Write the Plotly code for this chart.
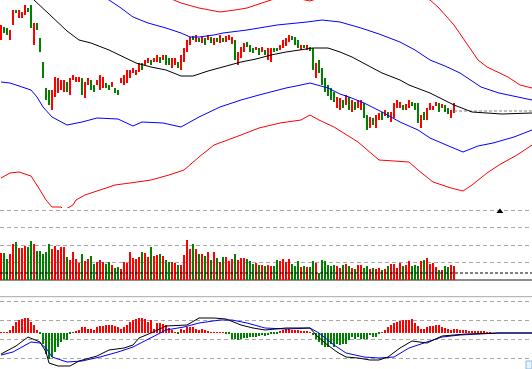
import plotly.graph_objects as go

# ---------------- data ----------------
OPEN = [210,223,222,210,225,240,232,232,235,242,
        245,205,227,212,188,162,160,140,153,157,
        160,158,168,155,170,168,168,172,152,165,
        170,165,165,160,162,167,165,163,162,160,
        167,165,167,172,177,175,178,187,185,187,
        190,188,188,193,190,195,192,182,185,188,
        180,188,198,205,214,208,212,207,212,210,
        213,205,212,207,212,208,210,206,210,185,
        192,198,208,205,202,200,202,198,200,190,
        188,202,202,200,202,204,208,214,213,210,
        200,205,200,203,202,172,190,182,172,165,
        162,158,142,140,150,145,153,138,148,142,
        140,147,135,122,132,122,130,138,134,138,
        128,132,142,142,145,140,142,148,147,147,
        122,138,130,140,140,144,147,142,145,142,
        132,137]
CLOSE = [225,217,215,220,240,237,240,238,245,238,
         222,227,220,198,172,150,145,160,173,172,
         170,170,158,172,175,173,173,155,168,172,
         160,158,170,175,173,162,160,168,157,155,
         172,175,180,180,182,180,187,180,190,192,
         185,192,195,187,195,185,185,192,192,182,
         195,202,210,213,210,215,208,213,205,215,
         207,212,208,215,208,214,215,213,190,198,
         203,207,203,198,197,203,195,203,195,202,
         202,198,199,205,210,212,215,210,205,202,
         205,202,205,199,180,187,177,165,158,154,
         150,148,153,152,142,155,140,150,140,150,
         150,132,120,133,125,135,137,130,140,132,
         138,147,150,148,140,146,150,144,140,127,
         135,130,142,147,144,148,138,146,138,136,
         140,147]
VOLUME = [27,27,21,26,36,38,32,32,34,33,
          39,36,29,29,26,28,36,31,34,30,
          33,33,23,20,28,21,17,26,19,21,
          24,16,18,20,18,16,18,15,12,13,
          11,18,17,28,22,21,23,28,27,23,
          33,24,25,26,24,20,18,18,17,15,
          15,25,40,31,36,31,26,26,24,28,
          20,28,22,18,23,23,19,21,26,20,
          22,22,21,19,16,17,15,15,14,15,
          14,14,20,19,21,18,21,16,14,19,
          13,14,13,13,19,17,7,20,19,15,
          14,15,14,12,15,16,14,12,11,15,
          15,12,14,11,12,11,12,10,11,14,
          16,16,12,17,14,15,19,14,15,14,
          19,20,22,16,17,13,10,10,14,13,
          15,14]
MACD_HIST = [0.008,0.008,0.005,0.025,0.068,0.108,0.125,0.135,0.152,0.152,
             0.108,0.075,0.025,-0.008,-0.108,-0.208,-0.258,-0.242,-0.192,-0.142,
             -0.092,-0.058,-0.075,-0.008,0.003,0.015,0.025,0.058,0.058,0.042,
             0.042,0.025,0.058,0.068,0.068,0.082,0.082,0.082,0.068,0.058,
             0.042,0.058,0.075,0.108,0.125,0.135,0.152,0.152,0.142,0.108,
             0.125,0.042,0.102,0.102,0.092,0.075,0.052,0.032,0.008,-0.005,
             0.042,0.032,0.058,0.058,0.058,0.042,0.032,0.042,0.025,0.015,
             0.008,0.005,0.003,0.002,0.001,-0.003,-0.008,-0.058,-0.065,-0.075,
             -0.058,-0.052,-0.052,-0.042,-0.042,-0.042,-0.032,-0.025,-0.030,-0.025,
             -0.015,-0.010,-0.005,0.015,0.025,0.035,0.035,0.030,0.025,0.025,
             0.020,0.015,0.015,0.005,-0.020,-0.058,-0.092,-0.125,-0.142,-0.142,
             -0.108,-0.142,-0.108,-0.125,-0.108,-0.108,-0.075,-0.042,-0.058,-0.042,
             -0.058,-0.058,-0.058,-0.025,-0.042,-0.042,-0.008,0.003,0.025,0.058,
             0.075,0.102,0.108,0.115,0.125,0.125,0.132,0.142,0.102,0.068,
             0.035,0.042,0.058,0.068,0.068,0.075,0.075,0.058,0.052,0.042,
             0.032,0.035,0.035,0.032,0.030,0.025,0.015,0.018,0.018,0.015,
             0.015,0.010,0.008,0.008]

# band lines (bar index, value)
MID_IDX = [9,11,16,22,26,30,36,41,45,50,55,60,64,69,74,80,85,90,95,101,104,109,113,117,120,127,133,136,143,148,151,157,167,177]
MID = [255,250,236,219,210,207,200,193,187,183,180,174,174,179,183,188,191,195,198,201,202,202,198,193,188,177,170,165,157,150,145,138,136,137]
UP1_IDX = [34,36,40,44,49,55,60,63,66,71,74,82,86,92,102,107,113,120,126,133,138,143,148,153,160,166,177]
UP1 = [254,250,242,233,227,222,217,213,213,215,217,220,222,225,228,230,228,222,216,208,200,190,184,177,163,157,150]
LO1_IDX = [0,3,6,10,12,14,17,22,27,32,39,44,47,54,60,66,73,80,86,95,100,103,109,113,116,121,127,133,139,143,150,154,159,164,171,177]
LO1 = [168,167,164,160,153,143,133,125,128,132,131,124,128,127,123,133,143,150,155,162,165,167,162,156,153,147,138,128,120,112,103,98,104,107,113,120]
UP2_IDX = [56,60,66,73,78,82,86,90,95,100,103,106,116,130,140,143,146,151,155,159,162,169,173,177]
UP2 = [252,247,242,238,240,242,246,250,254,251,249,252,258,258,253,250,242,225,208,190,183,173,165,162]
LO2_IDX = [0,3,6,10,13,15,17,20,21,24,25,28,33,38,43,50,56,61,66,71,80,86,93,100,103,106,111,119,126,136,139,144,150,154,157,162,166,172,177]
LO2 = [72,77,78,74,60,50,43,43,40,45,50,55,60,65,67,70,75,80,93,105,115,122,127,130,135,130,123,108,90,88,80,68,62,59,65,77,85,95,105]

DIF_IDX = [0,5,9,13,15,16,19,23,26,32,36,41,44,46,50,55,62,66,71,75,80,84,88,95,99,103,105,108,112,115,119,123,126,129,133,137,142,147,155,166,177]
DIF = [-0.215,-0.135,-0.045,-0.095,-0.195,-0.305,-0.335,-0.335,-0.285,-0.235,
       -0.175,-0.155,-0.125,-0.055,-0.005,0.065,0.075,0.145,0.145,0.135,
       0.075,0.045,0.025,0.045,0.045,0.045,-0.025,-0.105,-0.195,-0.245,
       -0.255,-0.275,-0.275,-0.245,-0.155,-0.085,-0.105,-0.035,-0.015,-0.005,-0.005]
DEA_IDX = [0,4,10,13,15,17,22,27,33,39,44,50,55,61,66,73,77,82,88,95,103,106,111,115,121,126,131,136,142,147,153,159,166,177]
DEA = [-0.225,-0.195,-0.095,-0.105,-0.155,-0.245,-0.295,-0.285,-0.245,-0.195,
       -0.145,-0.055,0.025,0.055,0.095,0.125,0.125,0.095,0.045,0.035,
       0.045,-0.005,-0.125,-0.205,-0.245,-0.255,-0.245,-0.155,-0.095,-0.045,
       -0.025,-0.015,-0.005,-0.005]

LAST_PRICE_LINE = 139
VOL_REF = 7
MARK_IDX = 166.3
MARK_VOL = 68.5

# ---------------- styling ----------------
RED = "#ff0000"
GREEN = "#008000"
BLUE = "#0000ff"
BLACK = "#000000"
GRID = "#a8a8a8"
X_RANGE = [-0.333, 177.0]

n = len(OPEN)
idx = list(range(n))
is_up = [c >= o for o, c in zip(OPEN, CLOSE)]
bar_colors = [RED if u else GREEN for u in is_up]

fig = go.Figure()


def add_line(xs, ys, color, xa, ya, width=1.0, dash=None):
    fig.add_trace(go.Scatter(x=xs, y=ys, mode="lines",
                             line=dict(color=color, width=width, dash=dash),
                             xaxis=xa, yaxis=ya, hoverinfo="skip"))


# main panel
add_line(UP2_IDX, UP2, RED, "x", "y")
add_line(LO2_IDX, LO2, RED, "x", "y")
add_line(UP1_IDX, UP1, BLUE, "x", "y")
add_line(LO1_IDX, LO1, BLUE, "x", "y")
add_line([n - 1, X_RANGE[1]], [LAST_PRICE_LINE, LAST_PRICE_LINE], "#808080", "x", "y", 1, "3px,2px")
add_line(MID_IDX, MID, BLACK, "x", "y")
fig.add_trace(go.Bar(x=idx, y=[c - o for o, c in zip(OPEN, CLOSE)], base=OPEN, width=0.67,
                     marker=dict(color=bar_colors, line=dict(width=0)),
                     xaxis="x", yaxis="y", hoverinfo="skip"))

# volume panel
fig.add_trace(go.Bar(x=idx, y=VOLUME, width=0.67,
                     marker=dict(color=bar_colors, line=dict(width=0)),
                     xaxis="x2", yaxis="y2", hoverinfo="skip"))
add_line([X_RANGE[0], X_RANGE[1]], [VOL_REF, VOL_REF], BLACK, "x2", "y2", 1.2, "3px,2px")
fig.add_trace(go.Scatter(x=[MARK_IDX], y=[MARK_VOL], mode="markers",
                         marker=dict(symbol="triangle-up", size=6, color=BLACK),
                         xaxis="x2", yaxis="y2", hoverinfo="skip"))

# MACD panel
hist_x = list(range(len(MACD_HIST)))
fig.add_trace(go.Bar(x=hist_x, y=MACD_HIST, width=0.35,
                     marker=dict(color=[RED if v >= 0 else GREEN for v in MACD_HIST], line=dict(width=0)),
                     xaxis="x3", yaxis="y3", hoverinfo="skip"))
add_line(DEA_IDX, DEA, BLUE, "x3", "y3")
add_line(DIF_IDX, DIF, BLACK, "x3", "y3")

H = 369.0
axis_x = dict(range=X_RANGE, visible=False, fixedrange=True)
fig.update_layout(
    width=532, height=369,
    margin=dict(l=0, r=0, t=0, b=0),
    paper_bgcolor="white", plot_bgcolor="white",
    showlegend=False, hovermode=False, bargap=0,
    xaxis=dict(axis_x, anchor="y", domain=[0, 1]),
    xaxis2=dict(axis_x, anchor="y2", domain=[0, 1]),
    xaxis3=dict(axis_x, anchor="y3", domain=[0, 1]),
    yaxis=dict(domain=[1 - 209.5 / H, 1], range=[40.5, 250], visible=False),
    yaxis2=dict(domain=[1 - 280 / H, 1 - 208 / H], range=[0, 72],
                showgrid=True, gridcolor=GRID, griddash="4px,3px", gridwidth=1,
                tick0=0, dtick=17.5, showticklabels=False, ticks="",
                zeroline=True, zerolinecolor="#8c8c8c", zerolinewidth=2, showline=False),
    yaxis3=dict(domain=[0, 1 - 296.7 / H], range=[-0.365, 0.358],
                showgrid=True, gridcolor=GRID, griddash="4px,3px", gridwidth=1,
                tick0=0.125, dtick=0.19, showticklabels=False, ticks="",
                zeroline=False, showline=False),
    shapes=[
        dict(type="line", xref="paper", yref="paper", x0=0, x1=1,
             y0=1 - 296.7 / H, y1=1 - 296.7 / H, line=dict(color=GRID, width=1)),
        dict(type="rect", xref="paper", yref="paper", x0=526 / 532, x1=1,
             y0=0, y1=8 / H, line=dict(color="#8fb8e0", width=1), fillcolor="#eaf2fb"),
    ],
)

fig.write_html("out.html", config={"displayModeBar": False},
               post_script="document.body.style.margin='0';document.body.style.overflow='hidden';")
